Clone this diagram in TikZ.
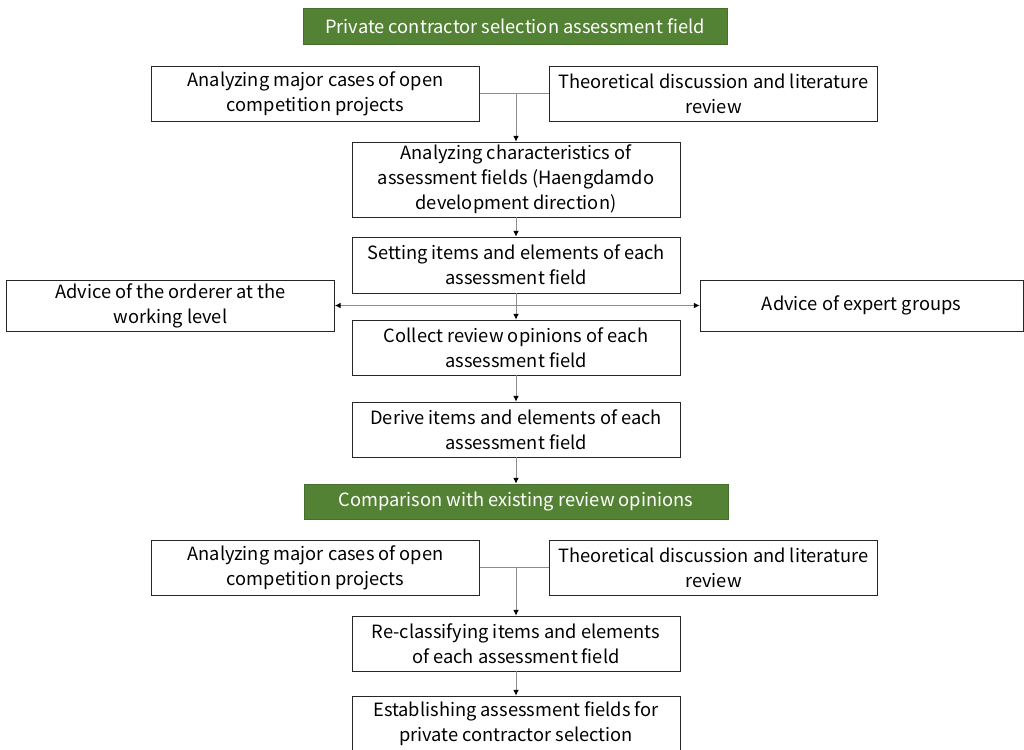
\documentclass[tikz,border=0pt]{standalone}
\usepackage{fontspec}
\setmainfont{Noto Sans CJK KR}
\usetikzlibrary{arrows.meta}
\definecolor{headgreen}{RGB}{84,130,53}
\tikzset{
	box/.style={draw=black!85, line width=0.6pt, fill=white, align=center,
		minimum width=8.2cm, minimum height=1.375cm, inner sep=1pt,
		font=\fontsize{13}{17.8}\selectfont},
	headbox/.style={box, fill=headgreen, draw=headgreen!85!black, text=white,
		minimum width=10.6cm, minimum height=0.9cm},
	link/.style={draw=black!45, line width=0.6pt},
	arr/.style={link, -{Latex[length=4pt,width=4pt,black]}},
}
\begin{document}
\begin{tikzpicture}[x=0.025cm, y=-0.025cm]
		\useasboundingbox (0,0) rectangle (1024,749);
		\clip (0,0) rectangle (1024,749);
		% First part
		\node[headbox] (head1) at (515,26) {Private contractor selection assessment field};
		\node[box] (cases1) at (315.5,93.5) {Analyzing major cases of open\\competition projects};
		\node[box] (theory1) at (713.5,93.5) {Theoretical discussion and literature\\review};
		\node[box, minimum height=1.875cm] (charac) at (516,179.5) {Analyzing characteristics of\\assessment fields (Haengdamdo\\development direction)};
		\node[box, minimum height=1.4cm] (setting) at (516,265) {Setting items and elements of each\\assessment field};
		\node[box, minimum height=1.275cm] (orderer) at (170.5,305.5) {Advice of the orderer at the\\working level};
		\node[box, minimum width=8.075cm, minimum height=1.275cm] (expert) at (861.5,305.5) {Advice of expert groups};
		\node[box] (collect) at (516,347.5) {Collect review opinions of each\\assessment field};
		\node[box] (derive) at (516,429.5) {Derive items and elements of each\\assessment field};
		% Second part
		\node[headbox, minimum height=0.875cm] (head2) at (516,501.5) {Comparison with existing review opinions};
		\node[box] (cases2) at (315.5,567.5) {Analyzing major cases of open\\competition projects};
		\node[box] (theory2) at (713.5,567.5) {Theoretical discussion and literature\\review};
		\node[box] (reclass) at (516,643.5) {Re-classifying items and elements\\of each assessment field};
		\node[box] (establish) at (516,723.5) {Establishing assessment fields for\\private contractor selection};
		% Connectors
		\draw[link] (cases1.east) -- (theory1.west);
		\draw[arr] (charac.north |- cases1.east) -- (charac.north);
		\draw[arr] (charac) -- (setting);
		\draw[arr] (setting) -- (collect);
		\draw[link, {Latex[length=4pt,width=4pt,black]}-{Latex[length=4pt,width=4pt,black]}] (orderer.east) -- (expert.west);
		\draw[arr] (collect) -- (derive);
		\draw[arr] (derive) -- (head2);
		\draw[link] (cases2.east) -- (theory2.west);
		\draw[arr] (reclass.north |- cases2.east) -- (reclass.north);
		\draw[arr] (reclass) -- (establish);
	\end{tikzpicture}
\end{document}
